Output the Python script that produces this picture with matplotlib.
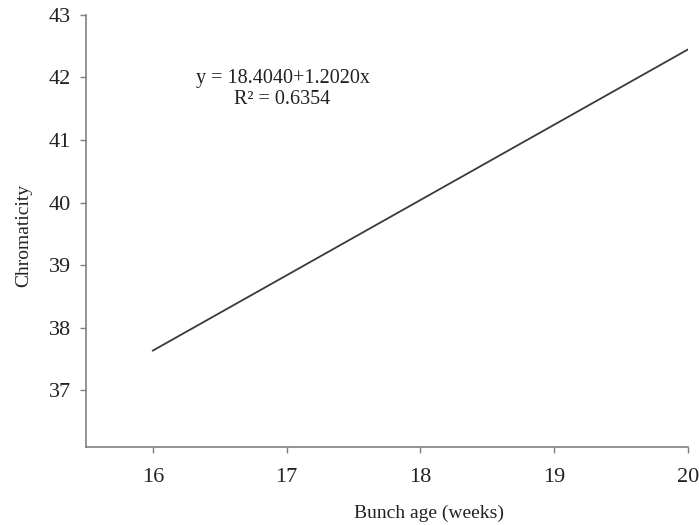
import numpy as np
import matplotlib
matplotlib.use('Agg')
import matplotlib.pyplot as plt

# regression line data
intercept = 18.4040
slope = 1.2020
r2 = 0.6354
weeks = np.array([16, 20])
chroma = intercept + slope * weeks

xticks = [16, 17, 18, 19, 20]
yticks = [37, 38, 39, 40, 41, 42, 43]

plt.rcParams['font.family'] = ['Liberation Serif', 'DejaVu Serif']

fig = plt.figure(figsize=(6.99, 5.25), dpi=100)
ax = fig.add_axes([0.123, 0.149, 0.861, 0.823])

ax.plot(weeks, chroma, color='#3a3a3a', lw=1.3)

ax.set_xlim(15.5, 20)
ax.set_ylim(36.1, 43)
ax.set_xticks(xticks)
ax.set_yticks(yticks)

for s in ['top', 'right']:
    ax.spines[s].set_visible(False)
for s in ['left', 'bottom']:
    ax.spines[s].set_color('#808080')
    ax.spines[s].set_linewidth(1.2)

ax.tick_params(axis='both', direction='out', length=4, width=1, color='#808080',
               labelsize=16, labelcolor='#222222')
ax.tick_params(axis='y', pad=7)
ax.tick_params(axis='x', pad=11)

ax.set_xlabel('Bunch age (weeks)', fontsize=14, color='#222222')
ax.xaxis.set_label_coords(0.57, -0.135)
ax.set_ylabel('Chromaticity', fontsize=14, color='#222222')
ax.yaxis.set_label_coords(-0.09, 0.49)

ax.text(16.97, 41.82, 'y = 18.4040+1.2020x\nR\u00b2 = 0.6354', ha='center', va='center',
        fontsize=14.5, color='#222222', linespacing=1.15)

fig.savefig('out.png', dpi=100, facecolor='white')
